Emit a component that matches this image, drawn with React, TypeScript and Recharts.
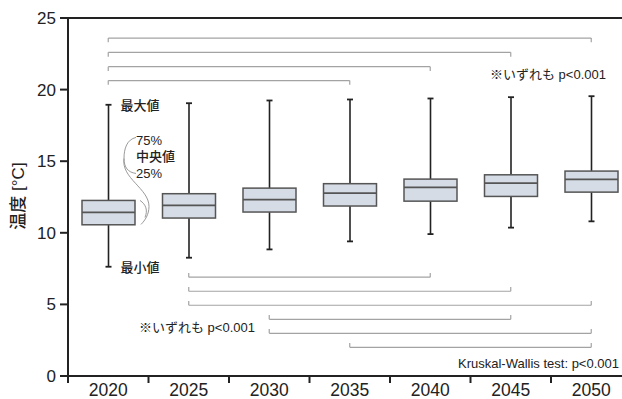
import React from "react";
import {
  ComposedChart,
  Bar,
  XAxis,
  YAxis,
  ReferenceLine,
  Customized,
} from "recharts";

const YEARS = ["2020", "2025", "2030", "2035", "2040", "2045", "2050"];
const MIN_VALUES = [7.63, 8.26, 8.84, 9.4, 9.91, 10.36, 10.8];
const Q1_VALUES = [10.56, 11.03, 11.45, 11.87, 12.21, 12.54, 12.84];
const MEDIAN_VALUES = [11.42, 11.91, 12.31, 12.77, 13.17, 13.47, 13.73];
const Q3_VALUES = [12.26, 12.73, 13.12, 13.43, 13.75, 14.05, 14.31];
const MAX_VALUES = [18.94, 19.05, 19.24, 19.31, 19.38, 19.47, 19.54];

const Y_TICKS = [0, 5, 10, 15, 20, 25];

// pairwise comparisons drawn above the boxes (all start at 2020)
const TOP_BRACKET_FROM = ["2020", "2020", "2020", "2020"];
const TOP_BRACKET_TO = ["2050", "2045", "2040", "2035"];
const TOP_BRACKET_Y = [23.6, 22.6, 21.6, 20.63];

// pairwise comparisons drawn below the boxes
const BOTTOM_BRACKET_FROM = ["2025", "2025", "2025", "2030", "2030", "2035"];
const BOTTOM_BRACKET_TO = ["2040", "2045", "2050", "2045", "2050", "2050"];
const BOTTOM_BRACKET_Y = [6.9, 5.92, 4.94, 3.96, 2.98, 2.0];

const CHART_W = 640;
const CHART_H = 399;
const Y_AXIS_W = 68;
const MARGIN = { top: 18, right: 8.5, bottom: 0, left: 0 };
const BAND = (CHART_W - Y_AXIS_W - MARGIN.right) / YEARS.length;

const FONT = "'Liberation Sans', Arial, 'Noto Sans CJK JP', sans-serif";
const AXIS_COLOR = "#222";
const BOX_FILL = "#d5dce5";
const BOX_STROKE = "#555";
const BRACKET_COLOR = "#a3a3a3";
const BRACKET_TICK = 0.3;

const data = YEARS.map((year, i) => ({
  year,
  min: MIN_VALUES[i],
  q1: Q1_VALUES[i],
  median: MEDIAN_VALUES[i],
  q3: Q3_VALUES[i],
  max: MAX_VALUES[i],
}));

const BoxShape = (props: any) => {
  const { x, y, width, height, payload, index } = props;
  const { min, q1, median, q3, max } = payload;
  const k = height / (max - min);
  const py = (v: number) => y + (max - v) * k;
  const cx = x + width / 2;
  const top = py(q3);
  const bot = py(q1);
  const bx = x + width;

  return (
    <g>
      <line x1={cx} x2={cx} y1={py(max)} y2={top} stroke={AXIS_COLOR} strokeWidth={1.6} />
      <line x1={cx} x2={cx} y1={bot} y2={py(min)} stroke={AXIS_COLOR} strokeWidth={1.6} />
      <line x1={cx - 3} x2={cx + 3} y1={py(max)} y2={py(max)} stroke={AXIS_COLOR} strokeWidth={1.8} />
      <line x1={cx - 3} x2={cx + 3} y1={py(min)} y2={py(min)} stroke={AXIS_COLOR} strokeWidth={1.8} />
      <rect x={x} y={top} width={width} height={bot - top} fill={BOX_FILL} stroke={BOX_STROKE} strokeWidth={1.5} />
      <line x1={x} x2={bx} y1={py(median)} y2={py(median)} stroke={BOX_STROKE} strokeWidth={1.8} />
      {index === 0 && (
        <g fontFamily={FONT} fontSize={13} fill="#222" fontWeight={500}>
          <text x={cx + 12} y={py(max) + 5}>最大値</text>
          <text x={cx + 12} y={py(min) + 5}>最小値</text>
          <text x={bx + 1} y={top - 55}>75%</text>
          <text x={bx + 1} y={top - 39}>中央値</text>
          <text x={bx + 1} y={top - 22}>25%</text>
          <g fill="none" stroke="#9a9a9a" strokeWidth={1}>
            <path
              d={`M${bx + 1},${top - 63} C${bx - 8},${top - 61} ${bx - 11},${top - 52} ${bx - 11},${top - 42} C${bx - 11},${top - 33} ${bx - 7},${top - 28} ${bx + 1},${top - 27}`}
            />
            <path
              d={`M${bx - 11},${top - 42} C${bx - 14},${top - 22} ${bx + 14},${top - 12} ${bx + 14},${top + 6} C${bx + 14},${top + 14} ${bx + 10},${top + 20} ${bx + 6},${top + 24}`}
            />
            <path
              d={`M${bx + 5},${top} C${bx + 11},${top + 4} ${bx + 13},${top + 10} ${bx + 10},${top + 17}`}
            />
          </g>
        </g>
      )}
    </g>
  );
};

const XTick = (props: any) => {
  const { x, y, payload, index } = props;
  const axisY = y - 8;
  return (
    <g>
      {index === 0 && (
        <line x1={x - BAND / 2} x2={x - BAND / 2} y1={axisY} y2={axisY + 7} stroke={AXIS_COLOR} strokeWidth={2} />
      )}
      <line x1={x + BAND / 2} x2={x + BAND / 2} y1={axisY} y2={axisY + 7} stroke={AXIS_COLOR} strokeWidth={2} />
      <text x={x} y={y + 12} textAnchor="middle" fontFamily={FONT} fontSize={17.5} fill="#222">
        {payload.value}
      </text>
    </g>
  );
};

const Notes = () => (
  <g fontFamily={FONT} fill="#222">
    <text
      transform="translate(24,196) rotate(-90)"
      textAnchor="middle"
      fontSize={17}
      fontWeight={500}
    >
      温度 [°C]
    </text>
    <text x={490} y={79} fontSize={13}>※いずれも p&lt;0.001</text>
    <text x={139} y={332} fontSize={13}>※いずれも p&lt;0.001</text>
    <text x={619} y={368} fontSize={13} textAnchor="end">Kruskal-Wallis test: p&lt;0.001</text>
  </g>
);

function bracket(
  key: string,
  from: string,
  to: string,
  level: number,
  dir: number
) {
  const end = level + dir * BRACKET_TICK;
  const common = { stroke: BRACKET_COLOR, strokeWidth: 1.2, ifOverflow: "visible" as const };
  return [
    <ReferenceLine key={key + "h"} segment={[{ x: from, y: level }, { x: to, y: level }]} {...common} />,
    <ReferenceLine key={key + "a"} segment={[{ x: from, y: level }, { x: from, y: end }]} {...common} />,
    <ReferenceLine key={key + "b"} segment={[{ x: to, y: level }, { x: to, y: end }]} {...common} />,
  ];
}

export default function App() {
  return (
    <div
      style={{
        position: "fixed",
        left: 0,
        top: 0,
        width: 622,
        height: 399,
        overflow: "hidden",
        background: "#fff",
      }}
    >
      <ComposedChart width={CHART_W} height={CHART_H} data={data} margin={MARGIN}>
        <XAxis
          dataKey="year"
          type="category"
          height={23}
          tickLine={false}
          tick={<XTick />}
          axisLine={{ stroke: AXIS_COLOR, strokeWidth: 2 }}
          interval={0}
        />
        <YAxis
          domain={[0, 25]}
          ticks={Y_TICKS}
          width={Y_AXIS_W}
          tickSize={8}
          tickMargin={4}
          axisLine={{ stroke: AXIS_COLOR, strokeWidth: 2 }}
          tickLine={{ stroke: AXIS_COLOR, strokeWidth: 2 }}
          tick={{ fill: "#222", fontSize: 17, fontFamily: FONT }}
        />
        <ReferenceLine y={25} stroke={AXIS_COLOR} strokeWidth={2} />
        {TOP_BRACKET_Y.map((lv, i) =>
          bracket("t" + i, TOP_BRACKET_FROM[i], TOP_BRACKET_TO[i], lv, -1)
        )}
        {BOTTOM_BRACKET_Y.map((lv, i) =>
          bracket("b" + i, BOTTOM_BRACKET_FROM[i], BOTTOM_BRACKET_TO[i], lv, 1)
        )}
        <Bar
          dataKey={(d: any) => [d.min, d.max]}
          barSize={53}
          shape={<BoxShape />}
          isAnimationActive={false}
        />
        <Customized component={<Notes />} />
      </ComposedChart>
    </div>
  );
}
